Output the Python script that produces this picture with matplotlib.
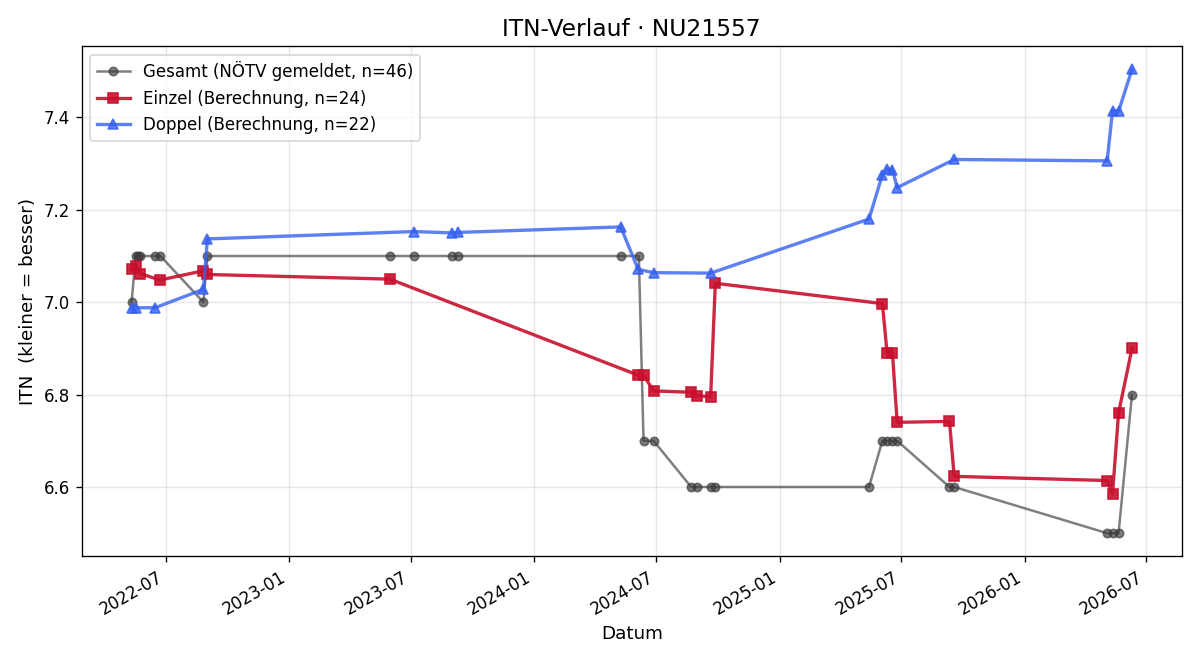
"""
ITN-Verlauf chart for one player: total (reported) vs. single / double (computed).
"""

import matplotlib

matplotlib.use("Agg")
import matplotlib.dates as mdates
import matplotlib.pyplot as plt
import pandas as pd
from matplotlib.ticker import MultipleLocator

# ==============================================================
# Data
# ==============================================================

gesamt_dates = [
    "2022-05-11", "2022-05-17", "2022-05-20", "2022-05-24", "2022-06-15", "2022-06-23",
    "2022-08-26", "2022-09-01", "2023-05-31", "2023-07-06", "2023-09-01", "2023-09-09",
    "2024-05-09", "2024-06-05", "2024-06-12", "2024-06-27", "2024-08-22", "2024-08-31",
    "2024-09-20", "2024-09-27", "2025-05-14", "2025-06-03", "2025-06-10", "2025-06-18",
    "2025-06-25", "2025-09-11", "2025-09-18", "2026-05-04", "2026-05-12", "2026-05-21",
    "2026-06-10",
]
gesamt_itn = [
    7.0, 7.1, 7.1, 7.1, 7.1, 7.1,
    7.0, 7.1, 7.1, 7.1, 7.1, 7.1,
    7.1, 7.1, 6.7, 6.7, 6.6, 6.6,
    6.6, 6.6, 6.6, 6.7, 6.7, 6.7,
    6.7, 6.6, 6.6, 6.5, 6.5, 6.5,
    6.8,
]

einzel_dates = [
    "2022-05-11", "2022-05-18", "2022-05-24", "2022-06-22", "2022-08-26", "2022-09-01",
    "2023-05-31", "2024-06-04", "2024-06-12", "2024-06-27", "2024-08-22", "2024-08-31",
    "2024-09-20", "2024-09-27", "2025-06-03", "2025-06-10", "2025-06-18", "2025-06-25",
    "2025-09-11", "2025-09-18", "2026-05-04", "2026-05-12", "2026-05-21", "2026-06-10",
]
einzel_itn = [
    7.071, 7.078, 7.062, 7.048, 7.068, 7.060,
    7.050, 6.842, 6.842, 6.808, 6.805, 6.798,
    6.795, 7.041, 6.997, 6.890, 6.890, 6.740,
    6.742, 6.623, 6.614, 6.585, 6.760, 6.900,
]

doppel_dates = [
    "2022-05-11", "2022-05-18", "2022-06-15", "2022-08-26", "2022-09-01", "2023-07-06",
    "2023-09-01", "2023-09-09", "2024-05-09", "2024-06-04", "2024-06-27", "2024-09-20",
    "2025-05-14", "2025-06-03", "2025-06-10", "2025-06-18", "2025-06-25", "2025-09-18",
    "2026-05-04", "2026-05-12", "2026-05-21", "2026-06-10",
]
doppel_itn = [
    6.987, 6.988, 6.988, 7.028, 7.137, 7.153,
    7.150, 7.151, 7.163, 7.071, 7.064, 7.063,
    7.180, 7.276, 7.288, 7.287, 7.248, 7.309,
    7.306, 7.415, 7.413, 7.504,
]

player_id = "NU21557"

# ==============================================================
# Plot
# ==============================================================

fig, ax = plt.subplots(figsize=(10, 5.5), dpi=120)

ax.plot(pd.to_datetime(gesamt_dates), gesamt_itn, "o-", color="#3a3a3a", alpha=0.65,
        linewidth=1.5, markersize=5, label="Gesamt (NÖTV gemeldet, n=46)")
ax.plot(pd.to_datetime(einzel_dates), einzel_itn, "s-", color="#c8102e", alpha=0.9,
        linewidth=2, markersize=6, label=f"Einzel (Berechnung, n={len(einzel_itn)})")
ax.plot(pd.to_datetime(doppel_dates), doppel_itn, "^-", color="#3560f0", alpha=0.8,
        linewidth=2, markersize=6, label=f"Doppel (Berechnung, n={len(doppel_itn)})")

ax.set_title(f"ITN-Verlauf · {player_id}", fontsize=14)
ax.set_xlabel("Datum", fontsize=11)
ax.set_ylabel("ITN  (kleiner = besser)", fontsize=11)
ax.yaxis.set_major_locator(MultipleLocator(0.2))
ax.xaxis.set_major_locator(mdates.MonthLocator(bymonth=[1, 7]))
ax.xaxis.set_major_formatter(mdates.DateFormatter("%Y-%m"))
ax.grid(True, alpha=0.3)
ax.legend(loc="upper left")
fig.autofmt_xdate()

fig.subplots_adjust(left=0.068, right=0.985, top=0.93, bottom=0.157)
fig.savefig("out.png", dpi=120)
plt.close(fig)
